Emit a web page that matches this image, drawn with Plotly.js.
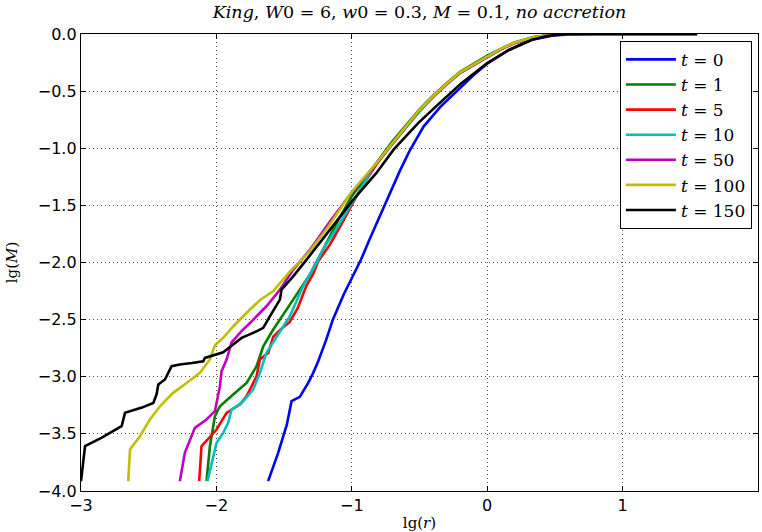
<!DOCTYPE html>
<html>
<head>
<meta charset="utf-8">
<script src="https://cdn.plot.ly/plotly-3.0.1.min.js"></script>
<style>html,body{margin:0;padding:0;background:#fff;}#chart{width:762px;height:532px;}</style>
</head>
<body>
<div id="chart"></div>
<script>
// Series: lg(r) vs lg(M) for different times t
const labels = ["t = 0", "t = 1", "t = 5", "t = 10", "t = 50", "t = 100", "t = 150"];
const colors = ["#0000ff", "#008000", "#ff0000", "#00bfbf", "#bf00bf", "#bfbf00", "#000000"];

const x_t0 = [-1.618,-1.544,-1.48,-1.445,-1.384,-1.322,-1.285,-1.248,-1.19,-1.14,-1.06,-0.98,-0.93,-0.87,-0.806,-0.72,-0.646,-0.572,-0.47,-0.34,-0.24,-0.2,-0.1,0,0.16,0.33,0.5,0.7,1.55];
const y_t0 = [-3.914,-3.666,-3.42,-3.214,-3.176,-3.053,-2.966,-2.864,-2.68,-2.5,-2.28,-2.08,-1.97,-1.80,-1.625,-1.40,-1.20,-1.02,-0.81,-0.63,-0.515,-0.475,-0.36,-0.26,-0.14,-0.05,-0.01,0,0];

const x_t1 = [-2.073,-2.048,-2.011,-1.974,-1.876,-1.777,-1.703,-1.654,-1.58,-1.482,-1.433,-1.31,-1.2,-1.1,-1.0,-0.9,-0.8,-0.7,-0.6,-0.5,-0.4,-0.3,-0.2,-0.1,0,0.1,0.2,0.35,0.5,0.7,1.0,1.55];
const y_t1 = [-3.914,-3.608,-3.345,-3.258,-3.155,-3.054,-2.908,-2.733,-2.587,-2.412,-2.325,-2.106,-1.858,-1.63,-1.42,-1.26,-1.10,-0.94,-0.80,-0.66,-0.54,-0.43,-0.33,-0.26,-0.19,-0.13,-0.075,-0.025,-0.005,0,0,0];

const x_t5 = [-2.127,-2.11,-1.999,-1.925,-1.827,-1.777,-1.74,-1.703,-1.679,-1.617,-1.58,-1.52,-1.458,-1.40,-1.334,-1.285,-1.248,-1.16,-1.06,-0.97,-0.9,-0.8,-0.7,-0.6,-0.5,-0.4,-0.3,-0.2,-0.1,0,0.1,0.2,0.35,0.5,0.7,1.0,1.55];
const y_t5 = [-3.914,-3.608,-3.462,-3.316,-3.243,-3.17,-3.083,-2.995,-2.849,-2.791,-2.65,-2.58,-2.52,-2.40,-2.2,-2.1,-1.99,-1.84,-1.63,-1.43,-1.29,-1.11,-0.96,-0.81,-0.67,-0.55,-0.44,-0.34,-0.27,-0.2,-0.135,-0.08,-0.028,-0.006,0,0,0];

const x_t10 = [-2.066,-1.999,-1.95,-1.913,-1.888,-1.814,-1.728,-1.679,-1.63,-1.58,-1.53,-1.458,-1.36,-1.26,-1.21,-1.087,-1.0,-0.95,-0.85,-0.7,-0.6,-0.5,-0.4,-0.3,-0.2,-0.1,0,0.1,0.2,0.35,0.5,0.7,1.0,1.55];
const y_t10 = [-3.914,-3.579,-3.491,-3.403,-3.287,-3.229,-3.112,-2.966,-2.791,-2.70,-2.6,-2.471,-2.208,-2.003,-1.88,-1.654,-1.479,-1.39,-1.18,-0.96,-0.82,-0.68,-0.55,-0.44,-0.34,-0.27,-0.2,-0.13,-0.078,-0.026,-0.005,0,0,0];

const x_t50 = [-2.27,-2.233,-2.159,-2.073,-2.011,-1.974,-1.962,-1.925,-1.888,-1.814,-1.752,-1.63,-1.53,-1.432,-1.31,-1.16,-1.0,-0.9,-0.8,-0.7,-0.6,-0.5,-0.4,-0.3,-0.2,-0.1,0,0.1,0.2,0.35,0.5,0.7,1.0,1.55];
const y_t50 = [-3.914,-3.666,-3.447,-3.374,-3.301,-3.083,-2.952,-2.849,-2.70,-2.6,-2.53,-2.383,-2.237,-2.062,-1.89,-1.64,-1.385,-1.25,-1.11,-0.96,-0.81,-0.67,-0.55,-0.44,-0.34,-0.27,-0.2,-0.135,-0.08,-0.028,-0.006,0,0,0];

const x_t100 = [-2.651,-2.638,-2.565,-2.491,-2.417,-2.319,-2.22,-2.122,-2.048,-2.011,-1.95,-1.876,-1.777,-1.679,-1.58,-1.458,-1.31,-1.175,-1.0,-0.9,-0.8,-0.7,-0.6,-0.5,-0.4,-0.3,-0.2,-0.1,0,0.1,0.2,0.35,0.5,0.7,1.0,1.55];
const y_t100 = [-3.914,-3.637,-3.52,-3.374,-3.258,-3.141,-3.054,-2.966,-2.849,-2.725,-2.66,-2.56,-2.44,-2.33,-2.25,-2.08,-1.90,-1.69,-1.38,-1.245,-1.105,-0.955,-0.805,-0.665,-0.545,-0.435,-0.335,-0.265,-0.195,-0.13,-0.077,-0.026,-0.005,0,0,0];

const x_t150 = [-3.0,-2.97,-2.85,-2.737,-2.70,-2.675,-2.55,-2.466,-2.442,-2.429,-2.38,-2.331,-2.27,-2.18,-2.097,-2.085,-2.0,-1.95,-1.876,-1.814,-1.703,-1.654,-1.605,-1.531,-1.519,-1.433,-1.334,-1.236,-1.113,-1.0,-0.818,-0.69,-0.51,-0.338,-0.19,0,0.16,0.33,0.45,0.6,0.8,1.55];
const y_t150 = [-3.914,-3.608,-3.535,-3.462,-3.433,-3.316,-3.27,-3.229,-3.155,-3.068,-3.024,-2.908,-2.893,-2.88,-2.864,-2.835,-2.806,-2.786,-2.718,-2.66,-2.602,-2.572,-2.471,-2.325,-2.237,-2.121,-1.975,-1.829,-1.64,-1.465,-1.216,-1.01,-0.78,-0.59,-0.43,-0.254,-0.14,-0.05,-0.015,-0.002,0,0];

const xTicks = [-3, -2, -1, 0, 1, 2];
const yTicks = [0, -0.5, -1, -1.5, -2, -2.5, -3, -3.5, -4];

const xs = [x_t0, x_t1, x_t5, x_t10, x_t50, x_t100, x_t150];
const ys = [y_t0, y_t1, y_t5, y_t10, y_t50, y_t100, y_t150];

const legendNames = labels.map(l => l.replace(/^t/, "<i>t</i>"));

const traces = xs.map((x, i) => ({
  type: "scatter",
  mode: "lines",
  x: x,
  y: ys[i],
  name: legendNames[i],
  line: { color: colors[i], width: 2.6 }
}));

const serif = "DejaVu Serif, Liberation Serif, serif";
const sans = "DejaVu Sans, sans-serif";
const gridStyle = { showgrid: true, gridcolor: "rgba(0,0,0,0.7)", griddash: "1px,3px", gridwidth: 1 };

const layout = {
  width: 762,
  height: 532,
  margin: { l: 81, r: 4, t: 34, b: 41 },
  paper_bgcolor: "#ffffff",
  plot_bgcolor: "#ffffff",
  showlegend: true,
  title: {
    text: "<i>King</i>, <i>W</i>0 = 6, <i>w</i>0 = 0.3, <i>M</i> = 0.1, <i>no accretion</i>",
    font: { family: serif, size: 17.5, color: "#000" },
    x: 0.5, xref: "paper", xanchor: "center",
    y: 0.977, yref: "container", yanchor: "middle"
  },
  xaxis: Object.assign({
    range: [-3, 2],
    tickvals: xTicks,
    ticktext: xTicks.map(v => v < 0 ? "\u2212" + Math.abs(v) : String(v)),
    ticks: "inside", ticklen: 5, tickcolor: "#000", tickwidth: 1,
    showline: true, linecolor: "#000", linewidth: 1.2, mirror: "ticks",
    zeroline: false,
    tickfont: { family: sans, size: 16, color: "#000" },
    title: { text: "lg(<i>r</i>)", font: { family: serif, size: 15, color: "#000" }, standoff: 4 }
  }, gridStyle),
  yaxis: Object.assign({
    range: [-4, 0],
    tickvals: yTicks,
    ticktext: yTicks.map(v => (v < 0 ? "\u2212" : "") + Math.abs(v).toFixed(1)),
    ticks: "inside", ticklen: 5, tickcolor: "#000", tickwidth: 1,
    showline: true, linecolor: "#000", linewidth: 1.2, mirror: "ticks",
    zeroline: false,
    tickfont: { family: sans, size: 16, color: "#000" },
    title: { text: "lg(<i>M</i>)", font: { family: serif, size: 15, color: "#000" }, standoff: 16 }
  }, gridStyle),
  legend: {
    x: 0.796, y: 0.985, xanchor: "left", yanchor: "top",
    bgcolor: "#ffffff", bordercolor: "#000", borderwidth: 1,
    itemwidth: 50,
    font: { family: serif, size: 17, color: "#000" }
  }
};

Plotly.newPlot("chart", traces, layout, { displayModeBar: false, staticPlot: true });
</script>
</body>
</html>
